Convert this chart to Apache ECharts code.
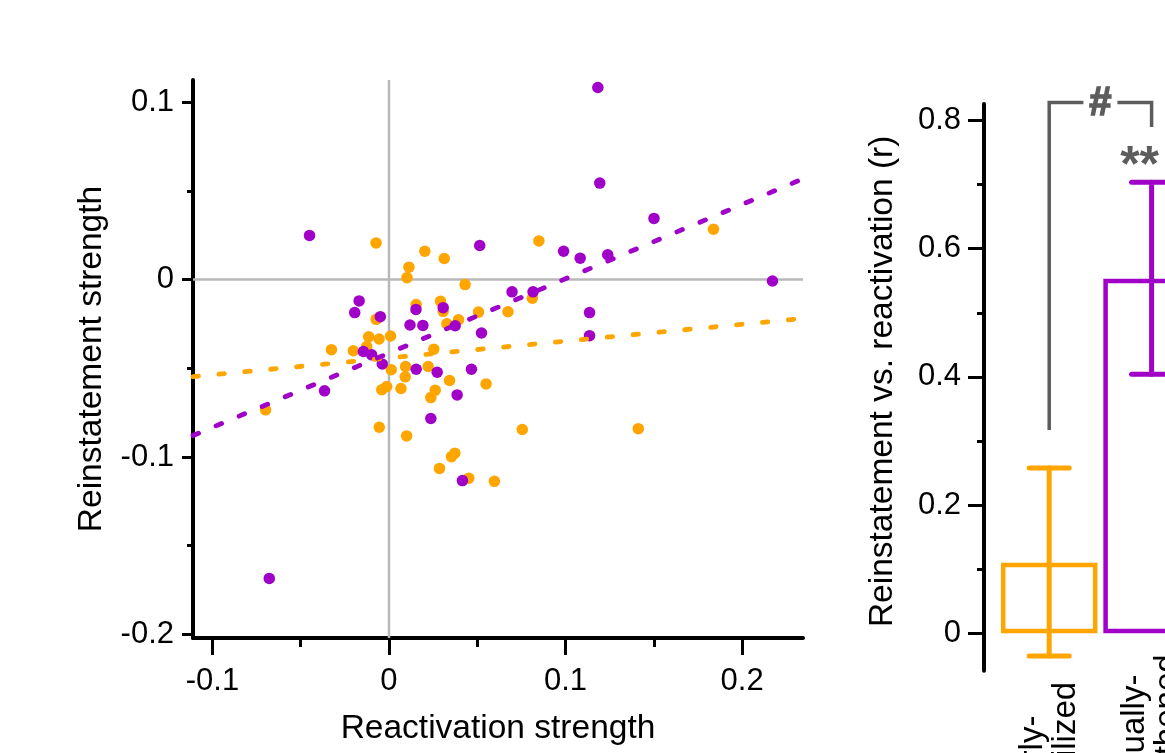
<!DOCTYPE html>
<html><head><meta charset="utf-8">
<script src="https://cdn.jsdelivr.net/npm/echarts@6/dist/echarts.min.js"></script>
<style>html,body{margin:0;padding:0;background:#fff}#c{width:1165px;height:753px}</style>
</head><body><div id="c"></div>
<script>
// ---------- scatter data (reactivation, reinstatement) ----------
const orangePoints = [
  [-0.0073, 0.0207], [0.0203, 0.0160], [0.0313, 0.0119], [0.0113, 0.0070], [0.0102, 0.0011],
  [0.0431, -0.0028], [-0.0073, -0.0224], [0.0154, -0.0141], [0.0292, -0.0122], [0.0307, -0.0179],
  [0.0507, -0.0183], [0.0328, -0.0249], [0.0394, -0.0226], [-0.0115, -0.0322], [-0.0056, -0.0335],
  [0.0009, -0.0318], [-0.0326, -0.0395], [-0.0202, -0.0401], [-0.0126, -0.0377], [0.0254, -0.0392],
  [0.0013, -0.0508], [0.0094, -0.0490], [0.0092, -0.0548], [0.0222, -0.0490], [0.0343, -0.0569],
  [0.0550, -0.0588], [-0.0041, -0.0621], [-0.0013, -0.0603], [0.0068, -0.0614], [0.0262, -0.0623],
  [0.0237, -0.0665], [-0.0699, -0.0734], [-0.0055, -0.0832], [0.0100, -0.0881], [0.0354, -0.0998],
  [0.0373, -0.0979], [0.0286, -0.1064], [0.0452, -0.1119], [0.0597, -0.1137], [0.1838, 0.0284],
  [0.0849, 0.0218], [0.0812, -0.0105], [0.0674, -0.0181], [0.0755, -0.0845], [0.1412, -0.0840]
];
const purplePoints = [
  [-0.0450, 0.0249], [0.0514, 0.0192], [-0.0169, -0.0120], [-0.0194, -0.0186], [-0.0049, -0.0209],
  [0.0153, -0.0168], [0.0307, -0.0158], [0.0119, -0.0256], [0.0192, -0.0258], [0.0375, -0.0260],
  [0.0524, -0.0301], [-0.0145, -0.0405], [-0.0098, -0.0424], [-0.0038, -0.0476], [0.0154, -0.0505],
  [0.0273, -0.0522], [0.0467, -0.0505], [0.0386, -0.0650], [-0.0365, -0.0627], [0.0237, -0.0783],
  [0.0416, -0.1133], [-0.0678, -0.1684], [0.1183, 0.1083], [0.1194, 0.0544], [0.1501, 0.0345],
  [0.0989, 0.0160], [0.1083, 0.0121], [0.1239, 0.0140], [0.2172, -0.0008], [0.0697, -0.0069],
  [0.0816, -0.0069], [0.1136, -0.0186], [0.1136, -0.0316]
];
const orangeFit = [[-0.111, -0.0547], [0.2345, -0.0219]];
const purpleFit = [[-0.111, -0.0879], [0.2345, 0.0568]];
const zeroVertical = [[0, -0.202], [0, 0.1125]];
const zeroHorizontal = [[-0.111, 0], [0.2345, 0]];

const scatterXTicks = [-0.1, 0, 0.1, 0.2];
const scatterXMinor = [-0.05, 0.05, 0.15];
const scatterYTicks = [-0.2, -0.1, 0, 0.1];
const scatterYMinor = [-0.15, -0.05, 0.05];

// ---------- bar data ----------
const barCategoryLines = [['Early-', 'stabilized'], ['Gradually-', 'strengthened']];
const barCategories = barCategoryLines.map(l => l.join('\n'));
const barMeans = [0.11, 0.553];
const barLow = [-0.0354, 0.404];
const barHigh = [0.258, 0.7036];
const barYTicks = [0, 0.2, 0.4, 0.6, 0.8];
const barYMinor = [0.1, 0.3, 0.5, 0.7];
const bracketPair = [0, 1];
const bracketLeftBottom = 0.317;
const bracketTop = 0.828;
const bracketRightBottom = 0.790;
const sigBetween = '#';
const sigPurple = '**';
const sigPurpleLevel = 0.745;

const ORANGE = '#FFA500', PURPLE = '#A000C8', GRAY = '#5c5c5c', ZERO = '#b8b8b8';
const FONT = '"Liberation Sans", Arial, sans-serif';
const groupColors = [ORANGE, PURPLE];

const chart = echarts.init(document.getElementById('c'), null, {renderer: 'canvas'});
const SX = [-0.111, 0.2345], SY = [-0.202, 0.1125], BY = [-0.0583, 0.8257];

const blackLine = {show: true, onZero: false, lineStyle: {color: '#000', width: 4}};
const noLine = {show: false, onZero: false};
const tickStyle = {color: '#000', width: 3};
const labelStyle = {color: '#000', fontSize: 31, fontFamily: FONT};
const nameStyle = {color: '#000', fontSize: 33.5, fontFamily: FONT};
const catText = {fontSize: 33, lineHeight: 33, fontFamily: FONT, color: '#000'};

const option = {
  backgroundColor: '#fff',
  animation: false,
  grid: [
    {left: 193, top: 80, width: 610, height: 558, outerBoundsMode: 'none', containLabel: false},
    {left: 998, top: 104, width: 204.8, height: 566.7, outerBoundsMode: 'none', containLabel: false}
  ],
  xAxis: [
    {gridIndex: 0, type: 'value', min: SX[0], max: SX[1], position: 'bottom',
      axisLine: blackLine,
      axisTick: {show: true, customValues: scatterXTicks, length: 17, lineStyle: tickStyle},
      axisLabel: Object.assign({customValues: scatterXTicks, margin: 28, formatter: v => String(v)}, labelStyle),
      splitLine: {show: false},
      name: 'Reactivation strength', nameLocation: 'middle', nameGap: 74, nameTextStyle: nameStyle},
    {gridIndex: 0, type: 'value', min: SX[0], max: SX[1], position: 'bottom',
      axisLine: noLine,
      axisTick: {show: true, customValues: scatterXMinor, length: 9, lineStyle: tickStyle},
      axisLabel: {show: false}, splitLine: {show: false}},
    {gridIndex: 1, type: 'category', data: barCategories, position: 'bottom',
      axisLine: noLine, axisTick: {show: false}, splitLine: {show: false},
      axisLabel: Object.assign({interval: 0, rotate: 90, align: 'center', verticalAlign: 'middle', margin: 80,
        formatter: (v, idx) => { const p = v.split('\n'); return '{a' + idx + '|' + p[0] + '}\n{b|' + p[1] + '}'; },
        rich: {
          a0: Object.assign({padding: [0, 16, 0, 0]}, catText),
          a1: Object.assign({padding: [0, 0, 0, 0]}, catText),
          b: Object.assign({}, catText)
        }}, catText)}
  ],
  yAxis: [
    {gridIndex: 0, type: 'value', min: SY[0], max: SY[1], position: 'left',
      axisLine: blackLine,
      axisTick: {show: true, customValues: scatterYTicks, length: 11, lineStyle: tickStyle},
      axisLabel: Object.assign({customValues: scatterYTicks, margin: 19, formatter: v => String(v)}, labelStyle),
      splitLine: {show: false},
      name: 'Reinstatement strength', nameLocation: 'middle', nameGap: 84, nameTextStyle: nameStyle},
    {gridIndex: 0, type: 'value', min: SY[0], max: SY[1], position: 'left',
      axisLine: noLine,
      axisTick: {show: true, customValues: scatterYMinor, length: 6, lineStyle: tickStyle},
      axisLabel: {show: false}, splitLine: {show: false}},
    {gridIndex: 1, type: 'value', min: BY[0], max: BY[1], position: 'left', offset: 14,
      axisLine: blackLine,
      axisTick: {show: true, customValues: barYTicks, length: 16, lineStyle: tickStyle},
      axisLabel: Object.assign({customValues: barYTicks, margin: 23, formatter: v => String(v)}, labelStyle),
      splitLine: {show: false},
      name: 'Reinstatement vs. reactivation (r)', nameLocation: 'middle', nameGap: 84,
      nameTextStyle: {color: '#000', fontSize: 33.5, fontFamily: FONT, padding: [0, 0, 0, 12]}},
    {gridIndex: 1, type: 'value', min: BY[0], max: BY[1], position: 'left', offset: 14,
      axisLine: noLine,
      axisTick: {show: true, customValues: barYMinor, length: 7, lineStyle: tickStyle},
      axisLabel: {show: false}, splitLine: {show: false}}
  ],
  series: [
    {type: 'line', xAxisIndex: 0, yAxisIndex: 0, data: zeroVertical, showSymbol: false, silent: true, z: 1,
      lineStyle: {color: ZERO, width: 2.5}},
    {type: 'line', xAxisIndex: 0, yAxisIndex: 0, data: zeroHorizontal, showSymbol: false, silent: true, z: 1,
      lineStyle: {color: ZERO, width: 2.5}},
    {type: 'scatter', xAxisIndex: 0, yAxisIndex: 0, data: orangePoints, symbolSize: 11.5, z: 2,
      itemStyle: {color: ORANGE, opacity: 1}},
    {type: 'scatter', xAxisIndex: 0, yAxisIndex: 0, data: purplePoints, symbolSize: 11.5, z: 3,
      itemStyle: {color: PURPLE, opacity: 1}},
    {type: 'line', xAxisIndex: 0, yAxisIndex: 0, data: orangeFit, showSymbol: false, z: 4,
      lineStyle: {color: ORANGE, width: 4.8, type: [5.5, 20.5], cap: 'round'}},
    {type: 'line', xAxisIndex: 0, yAxisIndex: 0, data: purpleFit, showSymbol: false, z: 5,
      lineStyle: {color: PURPLE, width: 4.8, type: [6, 19], cap: 'round'}},
    {type: 'bar', xAxisIndex: 2, yAxisIndex: 2, barWidth: 96.5, z: 2,
      data: barMeans.map((v, i) => ({value: v, itemStyle: {borderColor: groupColors[i]}})),
      itemStyle: {color: 'rgba(255,255,255,0)', borderWidth: 4.5}},
    {type: 'custom', xAxisIndex: 2, yAxisIndex: 2, z: 3, clip: false,
      data: barCategories.map((c, i) => [i, barLow[i], barHigh[i]]),
      encode: {x: 0, y: [1, 2]},
      renderItem: function (params, api) {
        const i = api.value(0);
        const lo = api.coord([i, api.value(1)]);
        const hi = api.coord([i, api.value(2)]);
        const w = 20;
        const style = {stroke: groupColors[params.dataIndex], lineWidth: 5, lineCap: 'round', fill: null};
        return {type: 'group', children: [
          {type: 'line', shape: {x1: lo[0], y1: lo[1], x2: hi[0], y2: hi[1]}, style: style},
          {type: 'line', shape: {x1: lo[0] - w, y1: lo[1], x2: lo[0] + w, y2: lo[1]}, style: style},
          {type: 'line', shape: {x1: hi[0] - w, y1: hi[1], x2: hi[0] + w, y2: hi[1]}, style: style}
        ]};
      }},
    {type: 'custom', xAxisIndex: 2, yAxisIndex: 2, z: 4, clip: false,
      data: [[bracketPair[0], bracketPair[1], bracketLeftBottom, bracketTop, bracketRightBottom]],
      renderItem: function (params, api) {
        const a = api.value(0), b = api.value(1);
        const pl = api.coord([a, api.value(2)]);
        const tl = api.coord([a, api.value(3)]);
        const tr = api.coord([b, api.value(3)]);
        const pr = api.coord([b, api.value(4)]);
        const midX = (tl[0] + tr[0]) / 2;
        const gap = 17;
        const ls = {stroke: GRAY, lineWidth: 3.5, fill: null};
        const star = api.coord([b, sigPurpleLevel]);
        return {type: 'group', children: [
          {type: 'polyline', shape: {points: [pl, tl, [midX - gap, tl[1]]]}, style: ls},
          {type: 'polyline', shape: {points: [[midX + gap, tr[1]], tr, pr]}, style: ls},
          {type: 'text', style: {text: sigBetween, x: midX, y: tl[1] + 1, fill: GRAY, stroke: GRAY, lineWidth: 1.5,
            fontSize: 40, fontWeight: 'bold', fontFamily: FONT, align: 'center', verticalAlign: 'middle'}},
          {type: 'text', style: {text: sigPurple, x: star[0] - 12, y: star[1] + 11, fill: GRAY,
            fontSize: 50, fontWeight: 'bold', fontFamily: FONT, align: 'center', verticalAlign: 'middle'}}
        ]};
      }}
  ]
};
chart.setOption(option);
</script>
</body></html>
